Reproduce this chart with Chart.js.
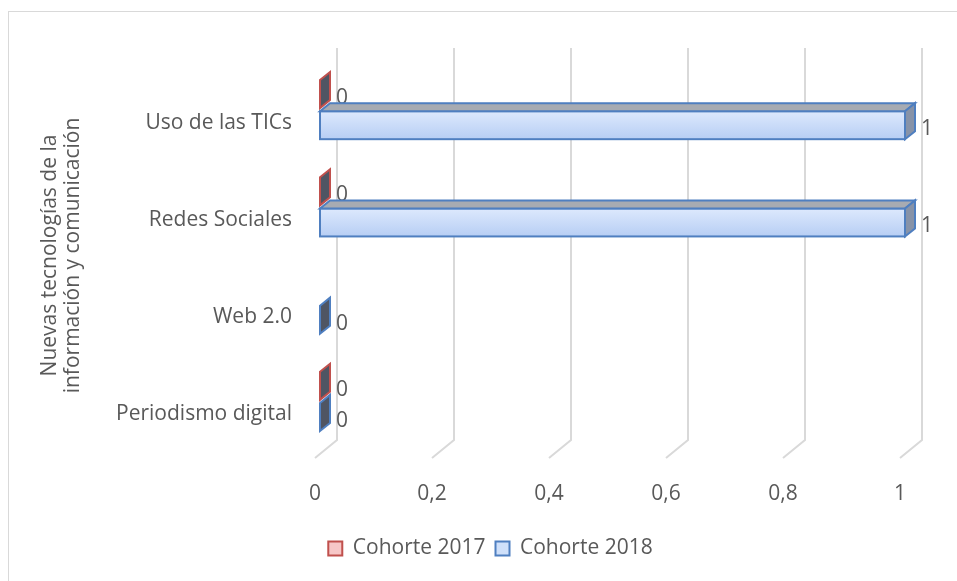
<!DOCTYPE html>
<html>
<head>
<meta charset="utf-8">
<script src="https://cdn.jsdelivr.net/npm/chart.js@4.4.1/dist/chart.umd.min.js"></script>
<style>
  html, body { margin: 0; padding: 0; background: #fff; }
  #wrap { width: 957px; height: 581px; position: relative; }
</style>
</head>
<body>
<div id="wrap"><canvas id="chart"></canvas></div>
<script>
// chart data
const categories = ["Uso de las TICs", "Redes Sociales", "Web 2.0", "Periodismo digital"];
const cohorte2017 = [0, 0, null, 0];
const cohorte2018 = [1, 1, 0, 0];
const xTicks = [0, 0.2, 0.4, 0.6, 0.8, 1];

const grey = "#595959";
const font = "'Open Sans', Lato, sans-serif";
const fs = 21;
const DX = 10, DY = 8; // bar depth

// outer frame + 3d style grid
const backdrop = {
  id: "backdrop",
  afterLayout(chart) {
    // legend sits a bit right of centre in the original
    chart.legend.left += 19;
    chart.legend.right += 19;
  },
  beforeDraw(chart) {
    const { ctx, chartArea, scales } = chart;
    ctx.save();
    ctx.strokeStyle = "#d9d9d9";
    ctx.lineWidth = 1;
    ctx.strokeRect(8.5, 11.5, 1000, 1000);
    ctx.lineWidth = 2;
    xTicks.forEach((t) => {
      const x = scales.x.getPixelForValue(t);
      ctx.beginPath();
      ctx.moveTo(x + 17, chartArea.top - 13);
      ctx.lineTo(x + 17, chartArea.bottom - 10);
      ctx.lineTo(x - 5, chartArea.bottom + 8);
      ctx.stroke();
    });
    ctx.restore();
  },
};

// front gradient, top / side faces and value labels
const bars3d = {
  id: "bars3d",
  afterDatasetsDraw(chart) {
    const { ctx } = chart;
    ctx.save();
    chart.data.datasets.forEach((ds, i) => {
      const meta = chart.getDatasetMeta(i);
      meta.data.forEach((bar, j) => {
        const v = ds.data[j];
        if (v === null || v === undefined) return;
        const x0 = bar.base, x1 = bar.x;
        const top = bar.y - bar.height / 2, bottom = bar.y + bar.height / 2;
        ctx.lineWidth = 2;
        ctx.strokeStyle = ds.borderColor;
        if (x1 - x0 > 1) {
          const g = ctx.createLinearGradient(0, top, 0, bottom);
          g.addColorStop(0, ds.faceTop);
          g.addColorStop(1, ds.faceBottom);
          ctx.fillStyle = g;
          ctx.fillRect(x0, top, x1 - x0, bottom - top);
          ctx.strokeRect(x0, top, x1 - x0, bottom - top);

          ctx.fillStyle = "#a7abb2";
          ctx.beginPath();
          ctx.moveTo(x0, top);
          ctx.lineTo(x0 + DX, top - DY);
          ctx.lineTo(x1 + DX, top - DY);
          ctx.lineTo(x1, top);
          ctx.closePath();
          ctx.fill();
          ctx.stroke();
          ctx.fillStyle = "#8793a8";
        } else {
          ctx.fillStyle = "#4f5563";
        }
        ctx.beginPath();
        ctx.moveTo(x1, top);
        ctx.lineTo(x1 + DX, top - DY);
        ctx.lineTo(x1 + DX, bottom - DY);
        ctx.lineTo(x1, bottom);
        ctx.closePath();
        ctx.fill();
        ctx.stroke();

        ctx.fillStyle = grey;
        ctx.font = fs + "px " + font;
        ctx.textBaseline = "middle";
        ctx.textAlign = "left";
        ctx.fillText(String(v).replace(".", ","), x1 + DX + 6, bar.y + 4);
      });
    });
    ctx.restore();
  },
};

new Chart(document.getElementById("chart"), {
  type: "bar",
  data: {
    labels: categories,
    datasets: [
      {
        label: "Cohorte 2017",
        data: cohorte2017,
        backgroundColor: "#f7c7c7",
        borderColor: "#c0504d",
        faceTop: "#fbd9d9",
        faceBottom: "#f1b0b0",
        borderWidth: 2,
        borderSkipped: false,
      },
      {
        label: "Cohorte 2018",
        data: cohorte2018,
        backgroundColor: "#cfe0fa",
        borderColor: "#4f7fc0",
        faceTop: "#dde9fd",
        faceBottom: "#b7cef4",
        borderWidth: 2,
        borderSkipped: false,
      },
    ],
  },
  options: {
    indexAxis: "y",
    responsive: true,
    maintainAspectRatio: false,
    animation: false,
    layout: { padding: { left: 38, right: 52, top: 61, bottom: 12 } },
    datasets: { bar: { categoryPercentage: 0.64, barPercentage: 0.9 } },
    scales: {
      x: {
        min: 0,
        max: 1,
        afterBuildTicks: (scale) => {
          scale.ticks = xTicks.map((v) => ({ value: v }));
        },
        afterFit: (scale) => { scale.height = 78; },
        grid: { display: false },
        border: { display: false },
        ticks: {
          color: grey,
          font: { family: font, size: fs },
          padding: 23,
          labelOffset: -5,
          callback: (v) => String(v).replace(".", ","),
        },
      },
      y: {
        afterFit: (scale) => { scale.width = 282; },
        grid: { display: false },
        border: { display: false },
        ticks: {
          color: grey,
          font: { family: font, size: fs },
          padding: 20,
          labelOffset: 13,
        },
        title: {
          display: true,
          text: ["Nuevas tecnologías de la", "información y comunicación"],
          color: grey,
          font: { family: font, size: fs, lineHeight: 1.1 },
          padding: { top: 0, bottom: 0 },
        },
      },
    },
    plugins: {
      legend: {
        position: "bottom",
        labels: {
          color: grey,
          font: { family: font, size: fs },
          boxWidth: 14,
          boxHeight: 14,
          padding: 10,
        },
      },
      tooltip: { enabled: false },
    },
  },
  plugins: [backdrop, bars3d],
});
</script>
</body>
</html>
